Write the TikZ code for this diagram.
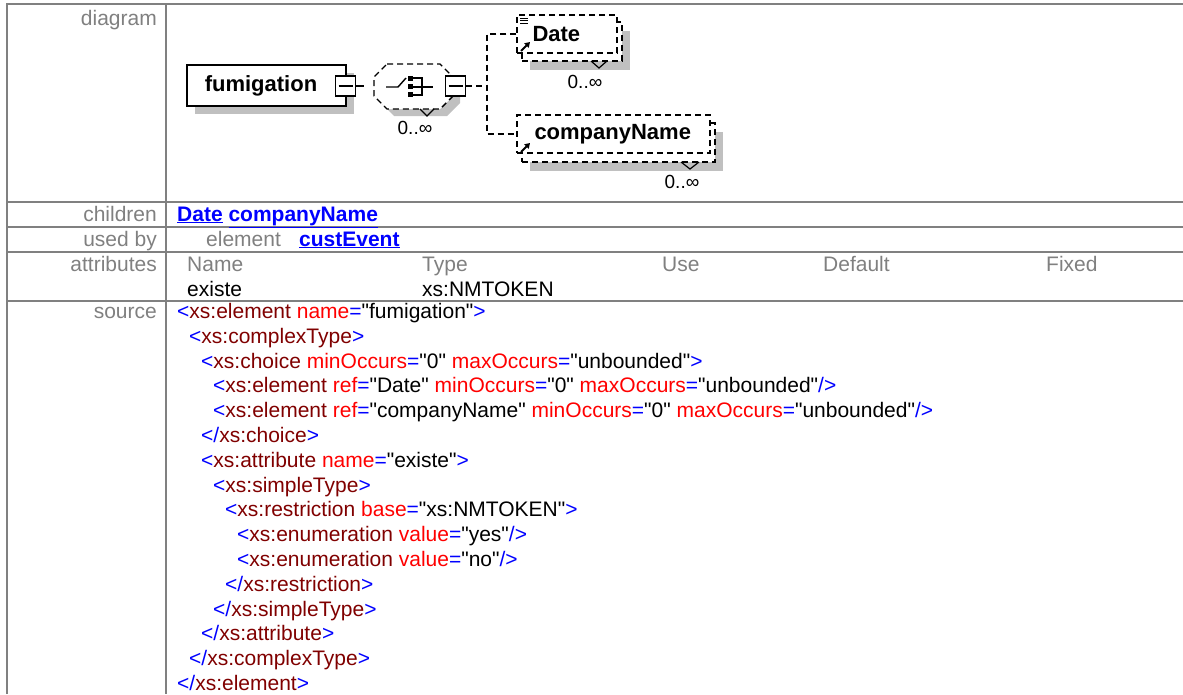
\documentclass[tikz,border=0pt]{standalone}
\usepackage{fontspec}
\setmainfont{Liberation Sans}
\usetikzlibrary{positioning, arrows.meta, shadows}

\definecolor{gridgray}{HTML}{808080}
\definecolor{lblgray}{HTML}{808080}
\definecolor{shgray}{HTML}{C0C0C0}
\definecolor{xblue}{HTML}{0000FF}
\definecolor{xtagc}{HTML}{800000}
\definecolor{xattc}{HTML}{FF0000}

% pieces of the xml source
\newcommand{\xtag}[1]{\textcolor{xblue}{<}\textcolor{xtagc}{#1}}
\newcommand{\xend}[1]{\textcolor{xblue}{</}\textcolor{xtagc}{#1}\textcolor{xblue}{>}}
\newcommand{\xatt}[2]{ \textcolor{xattc}{#1}\textcolor{xblue}{=}\textquotedbl #2\textquotedbl}
\newcommand{\xgt}{\textcolor{xblue}{>}}
\newcommand{\xcl}{\textcolor{xblue}{/>}}
\newcommand{\lnk}[1]{\textcolor{xblue}{\underline{\textbf{#1}}}}
% octagon of the compositor, round its centre
\newcommand{\octo}{++(-27,-22.5) -- ++(53,0) -- ++(13,13) -- ++(0,19)
	-- ++(-13,13) -- ++(-53,0) -- ++(-13,-13) -- ++(0,-19) -- cycle}

\begin{document}
\begin{tikzpicture}[x=1pt, y=-1pt,
		grid/.style = {draw=gridgray, line width=2pt},
		lbl/.style = {anchor=base east, inner sep=0pt, text=lblgray,
			font=\fontsize{21}{25}\selectfont},
		cell/.style = {anchor=base west, inner sep=0pt,
			font=\fontsize{21}{25}\selectfont},
		elbox/.style = {draw, line width=1.6pt, fill=white, inner sep=0pt,
			general shadow={fill=shgray, shadow xshift=8pt, shadow yshift=-8pt}},
		minus/.style = {draw, line width=1.2pt, fill=white, inner sep=0pt,
			minimum width=20pt, minimum height=20pt,
			path picture={\draw[line width=1.2pt]
				([xshift=3pt]path picture bounding box.west) --
				([xshift=-3pt]path picture bounding box.east);}},
		refbox/.style = {draw, line width=1.4pt, dash pattern=on 6pt off 4pt,
			fill=white, inner sep=0pt},
		reftxt/.style = {inner sep=0pt, font=\fontsize{22}{22}\selectfont\bfseries},
		occ/.style = {inner sep=0pt, font=\fontsize{19}{19}\selectfont},
		refarr/.style = {line width=2pt, -{Triangle[length=5pt,width=6pt]}},
		conn/.style = {line width=1.4pt},
		dconn/.style = {line width=1.4pt, dash pattern=on 6pt off 4pt}
	]
	\useasboundingbox (0,0) rectangle (1183,694);

	% table rules
	\draw[grid] (7,694) -- (7,4) -- (1183,4);
	\draw[grid] (166,4) -- (166,694);
	\foreach \yy in {202,227,252,301}
		\draw[grid] (7,\yy) -- (1183,\yy);

	% row labels
	\node[lbl] (lDiag) at (157,25) {diagram};
	\node[lbl] (lChild) at (157,221) {children};
	\node[lbl] (lUsed) at (157,246) {used by};
	\node[lbl] (lAttr) at (157,271) {attributes};
	\node[lbl] (lSrc) at (157,318) {source};

	% diagram: fumigation
	\node[elbox, minimum width=159pt, minimum height=41pt] (fum) at (266.5,85.5) {};
	\node[reftxt] (fumT) at (261,86) {fumigation};
	\node[minus] (fumM) at (345.5,86) {};
	\coordinate (fumEnd) at (364,86);
	\draw[conn] (fumM.east) -- (fumEnd);

	% choice compositor
	\coordinate (chc) at (414,86.5);
	\fill[shgray] ([shift={(7,7)}]chc) \octo;
	\draw[line width=1.4pt, dash pattern=on 6pt off 4pt, fill=white] (chc) \octo;
	\draw[conn] (386,87) -- (398,87) -- (406,78);
	\fill (408,76) rectangle (413,81);
	\fill (408,84) rectangle (413,89);
	\fill (408,92) rectangle (413,97);
	\draw[line width=1.2pt] (413,78) -- (422,78) -- (422,95) -- (413,95)
		(413,87) -- (433,87);
	\draw[line width=1.2pt] (420,109) -- (427,116) -- (434,109);
	\node[minus] (chcM) at (455.5,86) {};
	\node[occ] (chcOcc) at (415,128) {0..∞};

	% Date
	\node[refbox, minimum width=100pt, minimum height=39pt,
		general shadow={fill=shgray, shadow xshift=8pt, shadow yshift=-9pt}] (dateB) at (572,41.5) {};
	\node[refbox, minimum width=100pt, minimum height=38pt] (dateF) at (567,34) {};
	\node[reftxt, right=16pt of dateF.west] (dateT) {Date};
	\foreach \yy in {18,20.5,23}
		\draw[line width=1pt] (520,\yy) -- (528,\yy);
	\draw[refarr] (521,51) -- (530,42);
	\draw[line width=1.2pt] (591,61) -- (599,68) -- (607,61);
	\node[occ] (dateOcc) at (585,82) {0..∞};

	% companyName
	\node[refbox, minimum width=193pt, minimum height=39pt,
		general shadow={fill=shgray, shadow xshift=8pt, shadow yshift=-9pt}] (compB) at (618.5,142.5) {};
	\node[refbox, minimum width=193pt, minimum height=38pt] (compF) at (613.5,134) {};
	\node[reftxt, right=18pt of compF.west] (compT) {companyName};
	\draw[refarr] (521,152) -- (530,143);
	\draw[line width=1.2pt] (681,162) -- (690,169) -- (699,162);
	\node[occ] (compOcc) at (682,182) {0..∞};

	% connectors of the choice
	\coordinate (fork) at (487,86);
	\draw[dconn] (chcM.east) -- (fork);
	\draw[dconn] (dateF.west) -| (fork) |- (compF.west);

	% children / used by
	\node[cell] (chList) at (177,221) {\lnk{Date} \lnk{companyName}};
	\node[cell, text=lblgray] (ubKind) at (206,246) {element};
	\node[cell] (ubName) at (299,246) {\lnk{custEvent}};

	% attributes
	\node[cell, text=lblgray] (aName) at (187,271) {Name};
	\node[cell, text=lblgray] (aType) at (422,271) {Type};
	\node[cell, text=lblgray] (aUse) at (662,271) {Use};
	\node[cell, text=lblgray] (aDef) at (823,271) {Default};
	\node[cell, text=lblgray] (aFix) at (1046,271) {Fixed};
	\node[cell] (vName) at (187,296) {existe};
	\node[cell] (vType) at (422,296) {xs:NMTOKEN};

	% source
	\node[cell] (s1) at (177,318) {\xtag{xs:element}\xatt{name}{fumigation}\xgt};
	\node[cell] (s2) at (189,343) {\xtag{xs:complexType}\xgt};
	\node[cell] (s3) at (201,368) {\xtag{xs:choice}\xatt{minOccurs}{0}\xatt{maxOccurs}{unbounded}\xgt};
	\node[cell] (s4) at (213,392) {\xtag{xs:element}\xatt{ref}{Date}\xatt{minOccurs}{0}\xatt{maxOccurs}{unbounded}\xcl};
	\node[cell] (s5) at (213,417) {\xtag{xs:element}\xatt{ref}{companyName}\xatt{minOccurs}{0}\xatt{maxOccurs}{unbounded}\xcl};
	\node[cell] (s6) at (201,442) {\xend{xs:choice}};
	\node[cell] (s7) at (201,467) {\xtag{xs:attribute}\xatt{name}{existe}\xgt};
	\node[cell] (s8) at (213,492) {\xtag{xs:simpleType}\xgt};
	\node[cell] (s9) at (225,516) {\xtag{xs:restriction}\xatt{base}{xs:NMTOKEN}\xgt};
	\node[cell] (s10) at (237,541) {\xtag{xs:enumeration}\xatt{value}{yes}\xcl};
	\node[cell] (s11) at (237,566) {\xtag{xs:enumeration}\xatt{value}{no}\xcl};
	\node[cell] (s12) at (225,591) {\xend{xs:restriction}};
	\node[cell] (s13) at (213,616) {\xend{xs:simpleType}};
	\node[cell] (s14) at (201,640) {\xend{xs:attribute}};
	\node[cell] (s15) at (189,665) {\xend{xs:complexType}};
	\node[cell] (s16) at (177,690) {\xend{xs:element}};
\end{tikzpicture}
\end{document}
